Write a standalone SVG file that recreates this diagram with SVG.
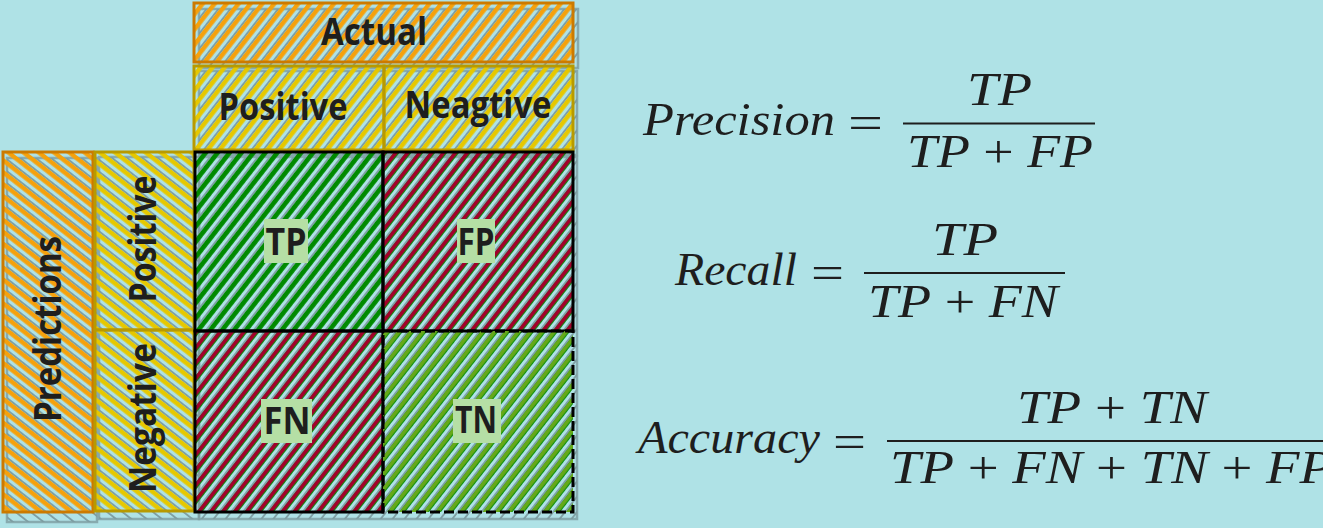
<svg xmlns="http://www.w3.org/2000/svg" width="1323" height="528" viewBox="0 0 1323 528">
<defs>
<pattern id="hGray" patternUnits="userSpaceOnUse" width="20" height="9.4" patternTransform="rotate(-52)"><rect x="0" y="7.6" width="20" height="1.8" fill="#7d9da1"/></pattern>
<pattern id="hGreen" patternUnits="userSpaceOnUse" width="20" height="9.4" patternTransform="rotate(-52)"><rect x="0" y="0" width="20" height="4.6" fill="#008a00"/></pattern>
<pattern id="hRed" patternUnits="userSpaceOnUse" width="20" height="9.4" patternTransform="rotate(-52)"><rect x="0" y="-0.3" width="20" height="3.9" fill="#a3002c"/></pattern>
<pattern id="hLime" patternUnits="userSpaceOnUse" width="20" height="9.4" patternTransform="rotate(-52)"><rect x="0" y="-0.3" width="20" height="3.9" fill="#66a81a"/></pattern>
<pattern id="hOrange" patternUnits="userSpaceOnUse" width="20" height="9.4" patternTransform="rotate(-52)"><rect x="0" y="0" width="20" height="4.4" fill="#f5a10c"/></pattern>
<pattern id="hYellow" patternUnits="userSpaceOnUse" width="20" height="9.4" patternTransform="rotate(-52)"><rect x="0" y="0" width="20" height="4.4" fill="#e6c800"/></pattern>
<pattern id="vGray" patternUnits="userSpaceOnUse" width="20" height="9.4" patternTransform="rotate(38)"><rect x="0" y="7.6" width="20" height="1.8" fill="#7d9da1"/></pattern>
<pattern id="vOrange" patternUnits="userSpaceOnUse" width="20" height="9.4" patternTransform="rotate(38)"><rect x="0" y="0" width="20" height="4.4" fill="#f5a10c"/></pattern>
<pattern id="vYellow" patternUnits="userSpaceOnUse" width="20" height="9.4" patternTransform="rotate(38)"><rect x="0" y="0" width="20" height="4.4" fill="#e6c800"/></pattern>
</defs>
<style>
.lbl{font-family:"Open Sans","Liberation Sans",sans-serif;font-weight:700;font-size:37px;fill:#1e1e1e;text-anchor:middle}
.shadow{stroke:#7d9da1;stroke-width:2.5;stroke-opacity:0.8}
.os{stroke:#cc7a00;stroke-width:3}
.ys{stroke:#b89a00;stroke-width:3}
.cell{stroke:#000;stroke-width:3;fill:none}
.tag{fill:#b5dfa5}
.math{font-family:"Liberation Serif","Times New Roman",serif;font-size:46px;fill:#1e1e1e}
.it{font-style:italic}
.bar{stroke:#1e1e1e;stroke-width:2.2}
</style>
<rect x="0" y="0" width="1323" height="528" fill="#afe2e6"/>

<g id="shadows">
<rect class="shadow" x="199" y="9" width="379" height="59" fill="url(#hGray)"/>
<rect class="shadow" x="199" y="71" width="378" height="84" fill="url(#hGray)"/>
<rect class="shadow" x="7" y="158" width="90" height="364" fill="url(#vGray)"/>
<rect class="shadow" x="99" y="157" width="100" height="362" fill="url(#vGray)"/>
<rect class="shadow" x="199" y="157" width="378" height="362" fill="url(#hGray)"/>
</g>

<g id="actual">
<rect class="os" x="194" y="3" width="379" height="59" fill="url(#hOrange)"/>
<text class="lbl" x="374" y="45" textLength="106" lengthAdjust="spacingAndGlyphs">Actual</text>
</g>
<g id="actual-positive">
<rect class="ys" x="194" y="66" width="190" height="84" fill="url(#hYellow)"/>
<text class="lbl" x="283" y="120" textLength="129" lengthAdjust="spacingAndGlyphs">Positive</text>
</g>
<g id="actual-negative">
<rect class="ys" x="384" y="66" width="189" height="84" fill="url(#hYellow)"/>
<text class="lbl" x="478" y="118" textLength="147" lengthAdjust="spacingAndGlyphs">Neagtive</text>
</g>
<g id="predictions">
<rect class="os" x="3" y="152" width="90" height="360" fill="url(#vOrange)"/>
<text class="lbl" transform="translate(61,329) rotate(-90)" x="0" y="0" textLength="186" lengthAdjust="spacingAndGlyphs">Predictions</text>
</g>
<g id="pred-positive">
<rect class="ys" x="95" y="152" width="99" height="178" fill="url(#vYellow)"/>
<text class="lbl" transform="translate(156,239) rotate(-90)" x="0" y="0" textLength="127" lengthAdjust="spacingAndGlyphs">Positive</text>
</g>
<g id="pred-negative">
<rect class="ys" x="95" y="330" width="99" height="181" fill="url(#vYellow)"/>
<text class="lbl" transform="translate(156,418) rotate(-90)" x="0" y="0" textLength="150" lengthAdjust="spacingAndGlyphs">Negative</text>
</g>

<g id="matrix-base">
<rect x="195" y="152" width="378" height="360" fill="url(#hGreen)"/>
</g>
<g id="tp">
<rect class="cell" x="195" y="152" width="188" height="179"/>
<rect class="tag" x="264" y="219" width="44" height="44"/>
<text class="lbl" x="286" y="255" textLength="41" lengthAdjust="spacingAndGlyphs">TP</text>
</g>
<g id="fp">
<rect x="383" y="152" width="190" height="179" fill="url(#hRed)"/>
<rect class="cell" x="383" y="152" width="190" height="179"/>
<rect class="tag" x="457" y="219" width="38" height="44"/>
<text class="lbl" x="476" y="255" textLength="37" lengthAdjust="spacingAndGlyphs">FP</text>
</g>
<g id="fn">
<rect x="195" y="331" width="188" height="181" fill="url(#hRed)"/>
<rect class="cell" x="195" y="331" width="188" height="181"/>
<rect class="tag" x="261" y="399" width="51" height="44"/>
<text class="lbl" x="287" y="434" textLength="47" lengthAdjust="spacingAndGlyphs">FN</text>
</g>
<g id="tn">
<rect x="383" y="331" width="190" height="181" fill="url(#hLime)"/>
<rect class="cell" x="383" y="331" width="190" height="181" stroke-dasharray="10 4"/>
<rect class="tag" x="453" y="399" width="48" height="44"/>
<text class="lbl" x="476" y="433" textLength="42" lengthAdjust="spacingAndGlyphs">TN</text>
</g>

<g id="connectors"></g>

<g id="precision">
<text class="math it" x="643" y="135" textLength="192" lengthAdjust="spacingAndGlyphs">Precision</text>
<text class="math" x="848" y="138" textLength="35" lengthAdjust="spacingAndGlyphs">=</text>
<line class="bar" x1="903" y1="123.5" x2="1095" y2="123.5"/>
<text class="math it" x="967" y="105" textLength="65" lengthAdjust="spacingAndGlyphs">TP</text>
<text class="math" x="907" y="167" textLength="186" lengthAdjust="spacingAndGlyphs"><tspan class="it">TP</tspan> + <tspan class="it">FP</tspan></text>
</g>
<g id="recall">
<text class="math it" x="675" y="285" textLength="122" lengthAdjust="spacingAndGlyphs">Recall</text>
<text class="math" x="811" y="288" textLength="33" lengthAdjust="spacingAndGlyphs">=</text>
<line class="bar" x1="864" y1="273" x2="1065" y2="273"/>
<text class="math it" x="932" y="255" textLength="66" lengthAdjust="spacingAndGlyphs">TP</text>
<text class="math" x="868" y="317" textLength="190" lengthAdjust="spacingAndGlyphs"><tspan class="it">TP</tspan> + <tspan class="it">FN</tspan></text>
</g>
<g id="accuracy">
<text class="math it" x="638" y="453" textLength="182" lengthAdjust="spacingAndGlyphs">Accuracy</text>
<text class="math" x="833" y="457" textLength="33" lengthAdjust="spacingAndGlyphs">=</text>
<line class="bar" x1="887" y1="441" x2="1323" y2="441"/>
<text class="math" x="1017" y="423" textLength="190" lengthAdjust="spacingAndGlyphs"><tspan class="it">TP</tspan> + <tspan class="it">TN</tspan></text>
<text class="math" x="890" y="483" textLength="443" lengthAdjust="spacingAndGlyphs"><tspan class="it">TP</tspan> + <tspan class="it">FN</tspan> + <tspan class="it">TN</tspan> + <tspan class="it">FP</tspan></text>
</g>
</svg>
